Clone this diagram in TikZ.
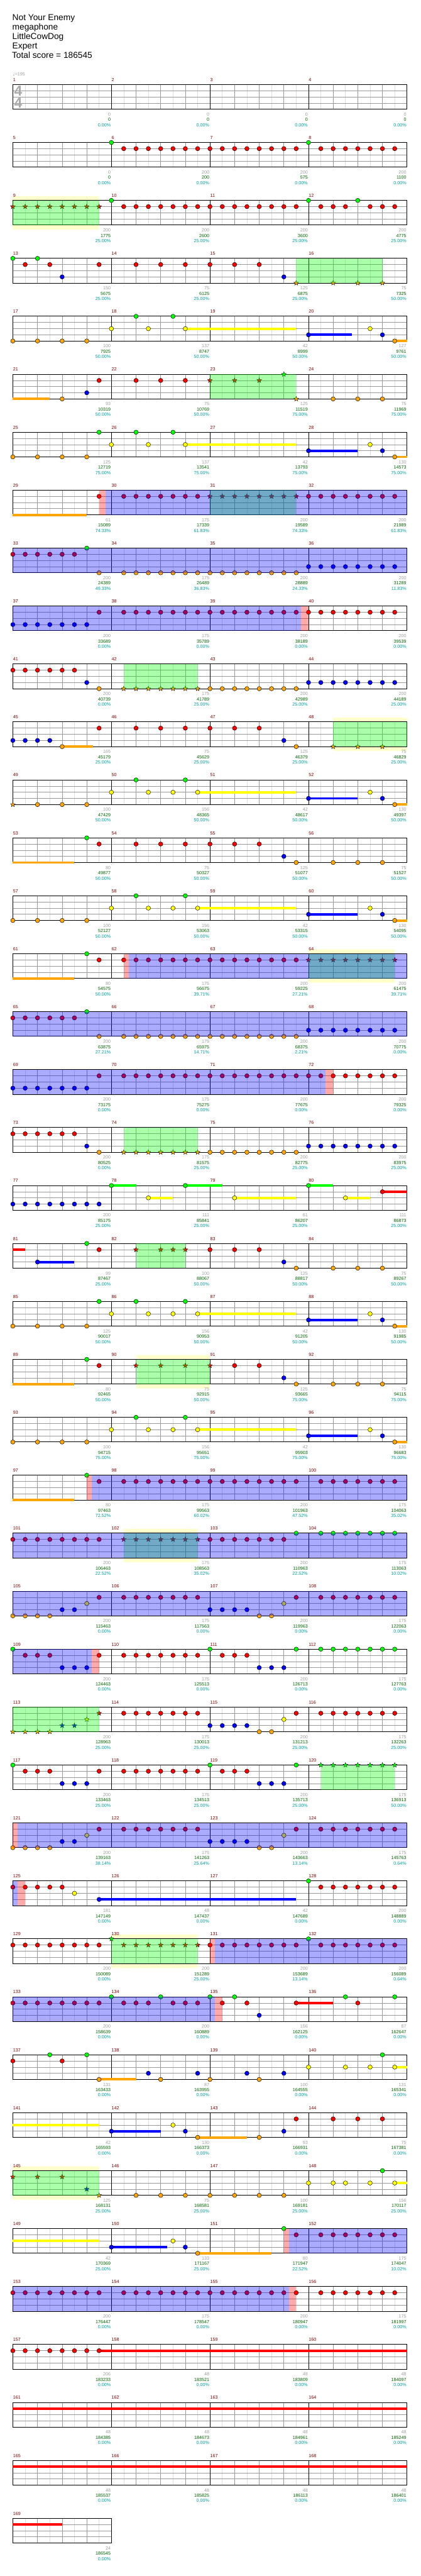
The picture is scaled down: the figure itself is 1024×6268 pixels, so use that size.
\documentclass[tikz,border=0pt]{standalone}
\usepackage{fontspec}
\setmainfont{Liberation Sans}
\newfontfamily\symfont{DejaVu Sans}
\usetikzlibrary{shapes.geometric}

\definecolor{notegreen}{RGB}{0,255,0}
\definecolor{notered}{RGB}{255,0,0}
\definecolor{noteyellow}{RGB}{255,255,0}
\definecolor{noteblue}{RGB}{0,0,255}
\definecolor{noteorange}{RGB}{255,165,0}
\definecolor{bandyellow}{RGB}{255,255,204}
\definecolor{measred}{RGB}{128,0,0}
\definecolor{ptgray}{RGB}{160,160,160}
\definecolor{scoregreen}{RGB}{0,100,0}
\definecolor{pctteal}{RGB}{0,160,160}
\definecolor{gridlight}{RGB}{221,221,221}
\definecolor{gridgray}{RGB}{153,153,153}
\definecolor{tsgray}{RGB}{170,170,170}

% notes of one style on one lane
\newcommand\nts[3]{\foreach \p in {#3} {\node[#1] (n\rowid-#1-\p) at (\p,#2) {};}}
% sustain bar: colour, lane, from, to
\newcommand\sus[4]{\draw[sustain, #1] (#3,#2) -- (#4,#2);}
% shaded zone over the staff
\newcommand\zone[3]{\fill[#1] (#2,0) rectangle (#3,4);}
% pale band round a star phrase
\newcommand\band[2]{\fill[bandyellow] (#1,-0.7) rectangle (#2,0) (#1,4) rectangle (#2,4.7);}
% grid of one row: measures, first measure number
\newcommand\staff[2]{%
  \pgfmathtruncatemacro\len{8*#1}
  \foreach \p in {1,3,...,\len} \draw[halfbeat] (\p,0) -- (\p,4);
  \foreach \p in {2,4,...,\len} \draw[beat] (\p,0) -- (\p,4);
  \foreach \l in {1,2,3} \draw[beat] (0,\l) -- (\len,\l);
  \foreach \i in {0,...,#1} \draw[bar] (8*\i,0) -- (8*\i,4);
  \draw[border] (0,0) -- (\len,0) (0,4) -- (\len,4);
  \foreach \i in {1,...,#1} {
    \pgfmathtruncatemacro\m{#2+\i-1}
    \node[measno] (m\m) at (8*\i-8,-0.53) {\m};}
}
% labels under each bar line
\newcommand\scores[1]{%
  \foreach \gv/\sv/\pv [count=\i] in {#1} {
    \node[ptlabel] (pt\rowid-\i) at (8*\i,5.08) {\gv};
    \node[sclabel] (sc\rowid-\i) at (8*\i,5.95) {\sv};
    \node[pclabel] (pc\rowid-\i) at (8*\i,6.81) {\pv\%};}
}

\begin{document}
\begin{tikzpicture}[x=1pt, y=-1pt,
    row/.code={\tikzset{shift={(31.3,205.7+141*#1)}, x=30pt, y=-15pt}\def\rowid{#1}},
    note/.style={circle, draw=black, line width=0.7pt, minimum size=10.6pt, inner sep=0pt},
    gnote/.style={note, fill=notegreen},
    rnote/.style={note, fill=notered},
    ynote/.style={note, fill=noteyellow},
    bnote/.style={note, fill=noteblue},
    onote/.style={note, fill=noteorange},
    spstar/.style={star, star points=5, star point ratio=2.4, draw=black, line width=0.5pt,
                   minimum size=12.5pt, inner sep=0pt},
    gstar/.style={spstar, fill=notegreen},
    rstar/.style={spstar, fill=notered},
    ystar/.style={spstar, fill=noteyellow},
    bstar/.style={spstar, fill=noteblue},
    ostar/.style={spstar, fill=noteorange},
    sustain/.style={line width=6pt},
    spzone/.style={fill=notegreen, fill opacity=0.333},
    ovd/.style={fill=noteblue, fill opacity=0.333},
    pinkbar/.style={fill=notered, fill opacity=0.333},
    halfbeat/.style={draw=gridlight, line width=1pt},
    beat/.style={draw=gridgray, line width=1pt},
    bar/.style={draw=black, line width=1pt},
    border/.style={draw=black, line width=1.5pt},
    measno/.style={anchor=base west, inner sep=0pt, xshift=0.5pt, text=measred,
                   font=\fontsize{11}{13}\selectfont},
    label/.style={anchor=base east, inner sep=0pt, xshift=-1.5pt, font=\fontsize{11}{13}\selectfont},
    ptlabel/.style={label, text=ptgray},
    sclabel/.style={label, text=scoregreen},
    pclabel/.style={label, text=pctteal},
    title/.style={anchor=base west, inner sep=0pt, font=\fontsize{21}{23}\selectfont}
]
  \fill[white] (0,0) rectangle (1024,6268);
  \useasboundingbox (0,0) rectangle (1024,6268);

  % song header
  \node[title] (song) at (30,50) {Not Your Enemy};
  \node[title] (artist) at (30,73) {megaphone};
  \node[title] (charter) at (30,96) {LittleCowDog};
  \node[title] (level) at (30,119) {Expert};
  \node[title] (total) at (29,142) {Total score = 186545};
  \node[anchor=base west, inner sep=0pt, text=ptgray, font=\fontsize{11}{13}\selectfont]
    (tempo) at (31,184.5) {{\symfont ♩}=195};

  % measures 1-4
  \begin{scope}[row=0]
    \staff{4}{1}
    \node[text=tsgray, font=\fontsize{35}{35}\selectfont\bfseries, inner sep=0pt] (tsup) at (0.44,1) {4};
    \node[text=tsgray, font=\fontsize{35}{35}\selectfont\bfseries, inner sep=0pt] (tsdown) at (0.44,3) {4};
    \scores{0/0/0.00, 0/0/0.00, 0/0/0.00, 0/0/0.00}
  \end{scope}

  % measures 5-8
  \begin{scope}[row=1]
    \staff{4}{5}
    \nts{gnote}{0}{8,24}
    \nts{rnote}{1}{9,...,23}
    \nts{rnote}{1}{25,...,31}
    \scores{0/0/0.00, 200/200/0.00, 200/575/0.00, 200/1100/0.00}
  \end{scope}

  % measures 9-12
  \begin{scope}[row=2]
    \band{0}{7}
    \staff{4}{9}
    \nts{rstar}{1}{0,...,7}
    \nts{gnote}{0}{8,24,28}
    \nts{rnote}{1}{9,...,23}
    \nts{rnote}{1}{25,26,27,29,30,31}
    \zone{spzone}{0}{7}
    \scores{200/1775/25.00, 200/2600/25.00, 200/3600/25.00, 200/4775/25.00}
  \end{scope}

  % measures 13-16
  \begin{scope}[row=3]
    \staff{4}{13}
    \nts{gnote}{0}{0,2}
    \nts{rnote}{1}{1,3,7,10,12,14,16,18,20}
    \nts{bnote}{3}{4,22}
    \nts{ostar}{4}{23,26,28,30}
    \zone{spzone}{23}{30}
    \scores{150/5675/25.00, 75/6125/25.00, 125/6875/25.00, 75/7325/50.00}
  \end{scope}

  % measures 17-20
  \begin{scope}[row=4]
    \staff{4}{17}
    \sus{noteyellow}{2}{14}{23}
    \sus{noteblue}{3}{24}{27.5}
    \sus{noteorange}{4}{31}{32}
    \nts{onote}{4}{0,2,4,6,31}
    \nts{ynote}{2}{8,11,14,29}
    \nts{gnote}{0}{10,13}
    \nts{bnote}{3}{24,30}
    \scores{100/7925/50.00, 137/8747/50.00, 42/8999/50.00, 127/9761/50.00}
  \end{scope}

  % measures 21-24
  \begin{scope}[row=5]
    \staff{4}{21}
    \sus{noteorange}{4}{0}{3}
    \nts{onote}{4}{4,26,28,30}
    \nts{bnote}{3}{6}
    \nts{rnote}{1}{7,10,12,14}
    \nts{rstar}{1}{16,18,20}
    \nts{gstar}{0}{22}
    \nts{ostar}{4}{23}
    \zone{spzone}{16}{23}
    \scores{93/10319/50.00, 75/10769/50.00, 125/11519/75.00, 75/11969/75.00}
  \end{scope}

  % measures 25-28
  \begin{scope}[row=6]
    \staff{4}{25}
    \sus{noteyellow}{2}{14}{23}
    \sus{noteblue}{3}{24}{28}
    \sus{noteorange}{4}{31}{32}
    \nts{onote}{4}{0,2,4,6,31}
    \nts{gnote}{0}{7,10,13}
    \nts{ynote}{2}{8,11,14,29}
    \nts{bnote}{3}{24,30}
    \scores{125/12719/75.00, 137/13541/75.00, 42/13793/75.00, 130/14573/75.00}
  \end{scope}

  % measures 29-32
  \begin{scope}[row=7]
    \staff{4}{29}
    \sus{noteorange}{4}{0}{6}
    \nts{rnote}{1}{7}
    \nts{rnote}{1}{9,...,15}
    \nts{rstar}{1}{16,...,23}
    \nts{rnote}{1}{24,...,31}
    \zone{spzone}{16}{23}
    \zone{ovd}{7.55}{32}
    \zone{pinkbar}{7}{7.55}
    \scores{61/15089/74.33, 175/17339/61.83, 200/19589/74.33, 200/21989/61.83}
  \end{scope}

  % measures 33-36
  \begin{scope}[row=8]
    \staff{4}{33}
    \nts{rnote}{1}{0,...,5}
    \nts{gnote}{0}{6}
    \nts{onote}{4}{7}
    \nts{onote}{4}{9,...,23}
    \nts{bnote}{3}{24,...,31}
    \zone{ovd}{0}{32}
    \scores{200/24389/49.33, 175/26489/36.83, 200/28889/24.33, 200/31289/11.83}
  \end{scope}

  % measures 37-40
  \begin{scope}[row=9]
    \staff{4}{37}
    \nts{bnote}{3}{0,...,6}
    \nts{rnote}{1}{7}
    \nts{rnote}{1}{9,...,31}
    \zone{ovd}{0}{23.4}
    \zone{pinkbar}{23.4}{24}
    \scores{200/33689/0.00, 175/35789/0.00, 200/38189/0.00, 200/39539/0.00}
  \end{scope}

  % measures 41-44
  \begin{scope}[row=10]
    \staff{4}{41}
    \nts{rnote}{1}{0,...,5}
    \nts{bnote}{3}{6}
    \nts{bnote}{3}{24,...,31}
    \nts{onote}{4}{7}
    \nts{ostar}{4}{9,...,15}
    \nts{onote}{4}{16,...,23}
    \zone{spzone}{9}{15}
    \scores{200/40739/0.00, 175/41789/25.00, 200/42989/25.00, 200/44189/25.00}
  \end{scope}

  % measures 45-48
  \begin{scope}[row=11]
    \band{26}{32}
    \staff{4}{45}
    \sus{noteorange}{4}{4}{6.5}
    \nts{bnote}{3}{0,...,3}
    \nts{bnote}{3}{22}
    \nts{onote}{4}{4,23}
    \nts{rnote}{1}{7,10,12,14,16,18,20}
    \nts{ostar}{4}{26,28,30}
    \zone{spzone}{26}{32}
    \scores{165/45179/25.00, 75/45629/25.00, 125/46379/25.00, 75/46829/25.00}
  \end{scope}

  % measures 49-52
  \begin{scope}[row=12]
    \staff{4}{49}
    \sus{noteyellow}{2}{15}{23}
    \sus{noteblue}{3}{24}{28}
    \sus{noteorange}{4}{31}{32}
    \nts{ostar}{4}{0}
    \nts{onote}{4}{2,4,6,31}
    \nts{ynote}{2}{8,11,13,15,29}
    \nts{gnote}{0}{10,14}
    \nts{bnote}{3}{24,30}
    \scores{100/47429/50.00, 156/48365/50.00, 42/48617/50.00, 130/49397/50.00}
  \end{scope}

  % measures 53-56
  \begin{scope}[row=13]
    \staff{4}{53}
    \sus{noteorange}{4}{0}{5}
    \nts{gnote}{0}{6}
    \nts{rnote}{1}{7,10,12,14,16,18,20}
    \nts{bnote}{3}{22}
    \nts{onote}{4}{23,26,28,30}
    \scores{80/49877/50.00, 75/50327/50.00, 125/51077/50.00, 75/51527/50.00}
  \end{scope}

  % measures 57-60
  \begin{scope}[row=14]
    \staff{4}{57}
    \sus{noteyellow}{2}{15}{23}
    \sus{noteblue}{3}{24}{28}
    \sus{noteorange}{4}{31}{32}
    \nts{onote}{4}{0,2,4,6,31}
    \nts{ynote}{2}{8,11,13,15,29}
    \nts{gnote}{0}{10,14}
    \nts{bnote}{3}{24,30}
    \scores{100/52127/50.00, 156/53063/50.00, 42/53315/50.00, 130/54095/50.00}
  \end{scope}

  % measures 61-64
  \begin{scope}[row=15]
    \band{24}{31}
    \staff{4}{61}
    \sus{noteorange}{4}{0}{5}
    \nts{gnote}{0}{6}
    \nts{rnote}{1}{7}
    \nts{rnote}{1}{9,...,23}
    \nts{rstar}{1}{24,...,31}
    \zone{spzone}{24}{31}
    \zone{ovd}{9.4}{32}
    \zone{pinkbar}{9}{9.4}
    \scores{80/54575/50.00, 175/56675/39.71, 200/59225/27.21, 200/61475/39.71}
  \end{scope}

  % measures 65-68
  \begin{scope}[row=16]
    \staff{4}{65}
    \nts{rnote}{1}{0,...,5}
    \nts{gnote}{0}{6}
    \nts{onote}{4}{7}
    \nts{onote}{4}{9,...,23}
    \nts{bnote}{3}{24,...,31}
    \zone{ovd}{0}{32}
    \scores{200/63875/27.21, 175/65975/14.71, 200/68375/2.21, 200/70775/0.00}
  \end{scope}

  % measures 69-72
  \begin{scope}[row=17]
    \staff{4}{69}
    \nts{bnote}{3}{0,...,6}
    \nts{rnote}{1}{7}
    \nts{rnote}{1}{9,...,31}
    \zone{ovd}{0}{25.4}
    \zone{pinkbar}{25.4}{26}
    \scores{200/73175/0.00, 175/75275/0.00, 200/77675/0.00, 200/79325/0.00}
  \end{scope}

  % measures 73-76
  \begin{scope}[row=18]
    \staff{4}{73}
    \nts{rnote}{1}{0,...,5}
    \nts{bnote}{3}{6}
    \nts{bnote}{3}{24,...,31}
    \nts{onote}{4}{7}
    \nts{ostar}{4}{9,...,15}
    \nts{onote}{4}{16,...,23}
    \zone{spzone}{9}{15}
    \scores{200/80525/0.00, 175/81575/25.00, 200/82775/25.00, 200/83975/25.00}
  \end{scope}

  % measures 77-80
  \begin{scope}[row=19]
    \staff{4}{77}
    \sus{notegreen}{0}{8}{10}
    \sus{noteyellow}{2}{11}{13}
    \sus{notegreen}{0}{14}{17}
    \sus{noteyellow}{2}{18}{23}
    \sus{notegreen}{0}{24}{26}
    \sus{noteyellow}{2}{27}{29}
    \sus{notered}{1}{30}{32}
    \nts{bnote}{3}{0,...,7}
    \nts{gnote}{0}{8,14,24}
    \nts{ynote}{2}{11,18,27}
    \nts{rnote}{1}{30}
    \scores{200/85175/25.00, 111/85841/25.00, 61/86207/25.00, 111/86873/25.00}
  \end{scope}

  % measures 81-84
  \begin{scope}[row=20]
    \staff{4}{81}
    \sus{notered}{1}{0}{1}
    \sus{noteblue}{3}{2}{5}
    \nts{bnote}{3}{2,22}
    \nts{gnote}{0}{6}
    \nts{rnote}{1}{7,16,18,20}
    \nts{rstar}{1}{10,12,13,14}
    \nts{onote}{4}{23,26,28,30}
    \zone{spzone}{10}{14}
    \scores{99/87467/25.00, 100/88067/50.00, 125/88817/50.00, 75/89267/50.00}
  \end{scope}

  % measures 85-88
  \begin{scope}[row=21]
    \staff{4}{85}
    \sus{noteyellow}{2}{15}{23}
    \sus{noteblue}{3}{24}{28}
    \sus{noteorange}{4}{31}{32}
    \nts{onote}{4}{0,2,4,6,31}
    \nts{gnote}{0}{7,10,14}
    \nts{ynote}{2}{8,11,13,15,29}
    \nts{bnote}{3}{24,30}
    \scores{125/90017/50.00, 156/90953/50.00, 42/91205/50.00, 130/91985/50.00}
  \end{scope}

  % measures 89-92
  \begin{scope}[row=22]
    \band{10}{16}
    \staff{4}{89}
    \sus{noteorange}{4}{0}{5}
    \nts{gnote}{0}{6}
    \nts{rnote}{1}{7,18,20}
    \nts{rstar}{1}{10,12,14,16}
    \nts{bnote}{3}{22}
    \nts{onote}{4}{23,26,28,30}
    \zone{spzone}{10}{16}
    \scores{80/92465/50.00, 75/92915/50.00, 125/93665/75.00, 75/94115/75.00}
  \end{scope}

  % measures 93-96
  \begin{scope}[row=23]
    \staff{4}{93}
    \sus{noteyellow}{2}{15}{23}
    \sus{noteblue}{3}{24}{28}
    \sus{noteorange}{4}{31}{32}
    \nts{onote}{4}{0,2,4,6,31}
    \nts{ynote}{2}{8,11,13,15,29}
    \nts{gnote}{0}{10,14}
    \nts{bnote}{3}{24,30}
    \scores{100/94715/75.00, 156/95651/75.00, 42/95903/75.00, 130/96683/75.00}
  \end{scope}

  % measures 97-100
  \begin{scope}[row=24]
    \staff{4}{97}
    \sus{noteorange}{4}{0}{5}
    \nts{gnote}{0}{6}
    \nts{rnote}{1}{7}
    \nts{rnote}{1}{9,...,23}
    \nts{rnote}{1}{25,...,31}
    \zone{ovd}{6.4}{32}
    \zone{pinkbar}{6}{6.4}
    \scores{80/97463/72.52, 175/99563/60.02, 200/101963/47.52, 175/104063/35.02}
  \end{scope}

  % measures 101-104
  \begin{scope}[row=25]
    \band{9}{15}
    \staff{4}{101}
    \nts{rnote}{1}{0,...,7}
    \nts{rstar}{1}{9,...,15}
    \nts{rnote}{1}{16,...,22}
    \nts{gnote}{0}{23}
    \nts{gnote}{0}{25,...,31}
    \zone{spzone}{9}{15}
    \zone{ovd}{0}{32}
    \scores{200/106463/22.52, 175/108563/35.02, 200/110963/22.52, 175/113063/10.02}
  \end{scope}

  % measures 105-108
  \begin{scope}[row=26]
    \staff{4}{105}
    \nts{onote}{4}{0,...,3}
    \nts{onote}{4}{20,21}
    \nts{bnote}{3}{4,5}
    \nts{bnote}{3}{16,...,19}
    \nts{ynote}{2}{6,22}
    \nts{rnote}{1}{7,23}
    \nts{rnote}{1}{9,...,15}
    \nts{rnote}{1}{25,...,31}
    \zone{ovd}{0}{32}
    \scores{200/115463/0.00, 175/117563/0.00, 200/119963/0.00, 175/122063/0.00}
  \end{scope}

  % measures 109-112
  \begin{scope}[row=27]
    \staff{4}{109}
    \nts{gnote}{0}{0,16,23}
    \nts{gnote}{0}{25,...,31}
    \nts{rnote}{1}{1,2,3,7,17,18,19}
    \nts{rnote}{1}{9,...,15}
    \nts{bnote}{3}{4,5,6,20,21,22}
    \zone{ovd}{0}{6.4}
    \zone{pinkbar}{6.4}{7}
    \scores{200/124463/0.00, 175/125513/0.00, 200/126713/0.00, 175/127763/0.00}
  \end{scope}

  % measures 113-116
  \begin{scope}[row=28]
    \staff{4}{113}
    \nts{ostar}{4}{0,...,3}
    \nts{bstar}{3}{4,5}
    \nts{ystar}{2}{6}
    \nts{rstar}{1}{7}
    \nts{rnote}{1}{9,...,15}
    \nts{rnote}{1}{23}
    \nts{rnote}{1}{25,...,31}
    \nts{bnote}{3}{16,...,19}
    \nts{onote}{4}{20,21}
    \nts{ynote}{2}{22}
    \zone{spzone}{0}{7}
    \scores{200/128963/25.00, 175/130013/25.00, 200/131213/25.00, 175/132263/25.00}
  \end{scope}

  % measures 117-120
  \begin{scope}[row=29]
    \staff{4}{117}
    \nts{gnote}{0}{0,16,23}
    \nts{rnote}{1}{1,2,3,7,17,18,19}
    \nts{rnote}{1}{9,...,15}
    \nts{bnote}{3}{4,5,6,20,21,22}
    \nts{gstar}{0}{25,...,31}
    \zone{spzone}{25}{31}
    \scores{200/133463/25.00, 175/134513/25.00, 200/135713/25.00, 175/136913/50.00}
  \end{scope}

  % measures 121-124
  \begin{scope}[row=30]
    \staff{4}{121}
    \nts{onote}{4}{0,...,3}
    \nts{onote}{4}{20,21}
    \nts{bnote}{3}{4,5}
    \nts{bnote}{3}{16,...,19}
    \nts{ynote}{2}{6,22}
    \nts{rnote}{1}{7,23}
    \nts{rnote}{1}{9,...,15}
    \nts{rnote}{1}{25,...,31}
    \zone{ovd}{0.4}{32}
    \zone{pinkbar}{0}{0.4}
    \scores{200/139163/38.14, 175/141263/25.64, 200/143663/13.14, 175/145763/0.64}
  \end{scope}

  % measures 125-128
  \begin{scope}[row=31]
    \staff{4}{125}
    \sus{noteblue}{3}{7}{23}
    \nts{rnote}{1}{0,...,4}
    \nts{rnote}{1}{25,...,31}
    \nts{ynote}{2}{5}
    \nts{bnote}{3}{7}
    \nts{gnote}{0}{24}
    \zone{ovd}{0}{0.4}
    \zone{pinkbar}{0.4}{1}
    \scores{181/147149/0.00, 48/147437/0.00, 42/147689/0.00, 200/148889/0.00}
  \end{scope}

  % measures 129-132
  \begin{scope}[row=32]
    \band{8}{15}
    \staff{4}{129}
    \nts{rnote}{1}{0,...,7}
    \nts{gstar}{0}{8}
    \nts{rstar}{1}{9,...,15}
    \nts{rnote}{1}{16,...,23}
    \nts{gnote}{0}{24}
    \nts{rnote}{1}{25,...,31}
    \zone{spzone}{8}{15}
    \zone{ovd}{16.4}{32}
    \zone{pinkbar}{16}{16.4}
    \scores{200/150089/0.00, 200/151289/25.00, 200/153689/13.14, 200/156089/0.64}
  \end{scope}

  % measures 133-136
  \begin{scope}[row=33]
    \staff{4}{133}
    \sus{notered}{1}{23}{26}
    \nts{rnote}{1}{0,...,7}
    \nts{rnote}{1}{9,10,11,13,14,15,17,19,23,28}
    \nts{gnote}{0}{8,12,16,18,27,31}
    \nts{bnote}{3}{20}
    \zone{ovd}{0}{16.4}
    \zone{pinkbar}{16.4}{17}
    \scores{200/158639/0.00, 200/160889/0.00, 156/162125/0.00, 87/162647/0.00}
  \end{scope}

  % measures 137-140
  \begin{scope}[row=34]
    \staff{4}{137}
    \sus{noteorange}{4}{7}{10}
    \sus{noteyellow}{2}{31}{32}
    \nts{rnote}{1}{0,4}
    \nts{gnote}{0}{3,6,30}
    \nts{onote}{4}{7,12,16,20}
    \nts{bnote}{3}{11,15,19,22}
    \nts{ynote}{2}{24,27,29,31}
    \scores{131/163433/0.00, 87/163955/0.00, 100/164555/0.00, 131/165341/0.00}
  \end{scope}

  % measures 141-144
  \begin{scope}[row=35]
    \staff{4}{141}
    \sus{noteyellow}{2}{0}{7}
    \sus{noteblue}{3}{8}{12}
    \sus{noteorange}{4}{15}{19}
    \nts{bnote}{3}{8,14,22}
    \nts{ynote}{2}{13}
    \nts{onote}{4}{15,20}
    \nts{rnote}{1}{23,26,28,30}
    \scores{42/165593/0.00, 130/166373/0.00, 93/166931/0.00, 75/167381/0.00}
  \end{scope}

  % measures 145-148
  \begin{scope}[row=36]
    \band{0}{7}
    \staff{4}{145}
    \sus{noteyellow}{2}{31}{32}
    \nts{rstar}{1}{0,2,4}
    \nts{bstar}{3}{6}
    \nts{ostar}{4}{7}
    \nts{onote}{4}{10,12,14,16,18,20,22}
    \nts{ynote}{2}{24,26,27,29,31}
    \nts{gnote}{0}{30}
    \zone{spzone}{0}{7}
    \scores{125/168131/25.00, 75/168581/25.00, 100/169181/25.00, 156/170117/25.00}
  \end{scope}

  % measures 149-152
  \begin{scope}[row=37]
    \staff{4}{149}
    \sus{noteyellow}{2}{0}{7}
    \sus{noteblue}{3}{8}{12.5}
    \sus{noteorange}{4}{15}{21}
    \nts{bnote}{3}{8,14}
    \nts{ynote}{2}{13}
    \nts{onote}{4}{15}
    \nts{gnote}{0}{22}
    \nts{rnote}{1}{23}
    \nts{rnote}{1}{25,...,31}
    \zone{ovd}{22.4}{32}
    \zone{pinkbar}{22}{22.4}
    \scores{42/170369/25.00, 133/171167/25.00, 80/171947/22.52, 175/174047/10.02}
  \end{scope}

  % measures 153-156
  \begin{scope}[row=38]
    \staff{4}{153}
    \nts{rnote}{1}{0,...,7}
    \nts{rnote}{1}{9,...,23}
    \nts{rnote}{1}{25,...,31}
    \zone{ovd}{0}{22.4}
    \zone{pinkbar}{22.4}{23}
    \scores{200/176447/0.00, 175/178547/0.00, 200/180947/0.00, 175/181997/0.00}
  \end{scope}

  % measures 157-160
  \begin{scope}[row=39]
    \staff{4}{157}
    \sus{notered}{1}{7}{32}
    \nts{rnote}{1}{0,...,7}
    \scores{206/183233/0.00, 48/183521/0.00, 48/183809/0.00, 48/184097/0.00}
  \end{scope}

  % measures 161-164
  \begin{scope}[row=40]
    \staff{4}{161}
    \sus{notered}{1}{0}{32}
    \scores{48/184385/0.00, 48/184673/0.00, 48/184961/0.00, 48/185249/0.00}
  \end{scope}

  % measures 165-168
  \begin{scope}[row=41]
    \staff{4}{165}
    \sus{notered}{1}{0}{32}
    \scores{48/185537/0.00, 48/185825/0.00, 48/186113/0.00, 48/186401/0.00}
  \end{scope}

  % measure 169
  \begin{scope}[row=42]
    \staff{1}{169}
    \sus{notered}{1}{0}{4}
    \scores{24/186545/0.00}
  \end{scope}
\end{tikzpicture}
\end{document}
